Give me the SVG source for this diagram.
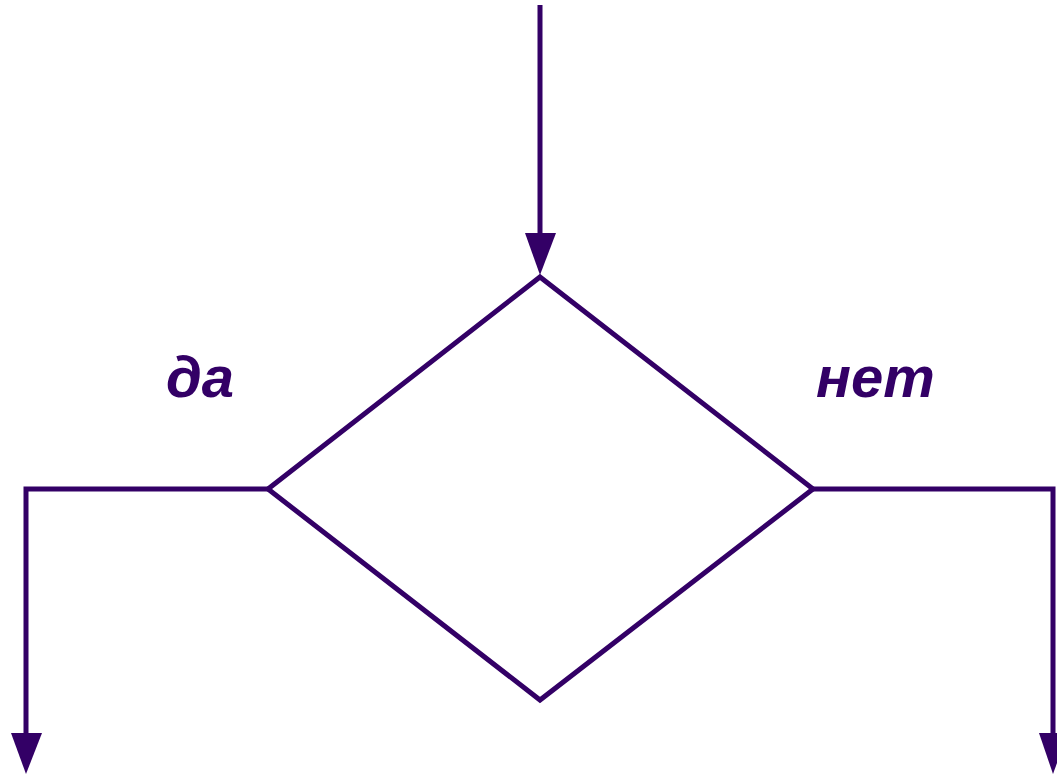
<svg xmlns="http://www.w3.org/2000/svg" width="1057" height="774" viewBox="0 0 1057 774">
<style>
.ln{fill:none;stroke:#330066;stroke-width:5}
.ah{fill:#330066}
.lb{font-family:"Liberation Sans",Arial,sans-serif;font-weight:bold;font-style:italic;font-size:58px;fill:#330066}
</style>
<rect width="1057" height="774" fill="#fff"/>
<g id="decision">
<polygon class="ln" points="540,277 813,489 540,700 268,489"/>
</g>
<g id="connectors">
<line class="ln" x1="540" y1="5" x2="540" y2="240"/>
<polygon class="ah" points="525,233 556,233 540,275"/>
<polyline class="ln" points="268,489 26,489 26,740"/>
<polygon class="ah" points="11,733 42,733 26,774"/>
<polyline class="ln" points="813,489 1053,489 1053,740"/>
<polygon class="ah" points="1039,733 1068,733 1053,774"/>
</g>
<g id="labels">
<text class="lb" x="166" y="397">да</text>
<text class="lb" x="816" y="397">нет</text>
</g>
</svg>
